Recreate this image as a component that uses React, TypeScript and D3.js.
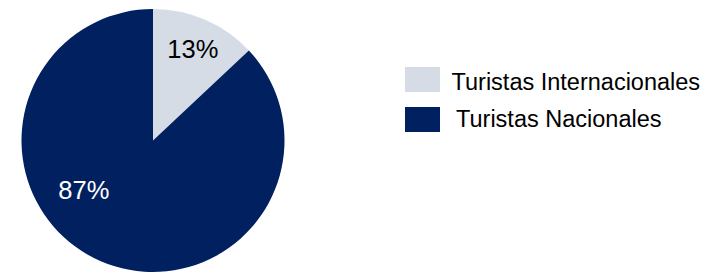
import * as d3 from "d3";
import React from "react";

const categories = ["Turistas Internacionales", "Turistas Nacionales"];
const values = [13, 87];
const colors = ["#d6dce5", "#002060"];

const App: React.FC = () => {
  const width = 719;
  const height = 272;
  const cx = 153;
  const cy = 140.5;
  const radius = 131.5;

  const pie = d3.pie<number>().sort(null).value(d => d);
  const arcs = pie(values);
  const arc = d3.arc<d3.PieArcDatum<number>>().innerRadius(0).outerRadius(radius);

  // label positions tuned to match the source layout
  const labelArc = d3.arc<d3.PieArcDatum<number>>().innerRadius(radius * 0.68).outerRadius(radius * 0.68);
  const labelOffsets = [[4.3, 0], [-33.7, -23.2]];
  const labelColors = ["#000", "#fff"];

  const legendText = [[46.5, 22.5], [51, 20]];

  return (
    <svg width={width} height={height} style={{position: "absolute", left: 0, top: 0}}>
      <g transform={`translate(${cx},${cy})`}>
        {arcs.map((a, i) => (
          <path key={i} d={arc(a) ?? ""} fill={colors[i]} />
        ))}
        {arcs.map((a, i) => {
          const [x, y] = labelArc.centroid(a);
          return (
            <text
              key={i}
              x={x + labelOffsets[i][0]}
              y={y + labelOffsets[i][1]}
              textAnchor="middle"
              fontFamily="Liberation Sans, Arial, sans-serif"
              fontSize={25.5}
              fill={labelColors[i]}
            >
              {a.data}%
            </text>
          );
        })}
      </g>
      {categories.map((c, i) => (
        <g key={c} transform={`translate(405,${67 + i * 40})`}>
          <rect width={35} height={25} fill={colors[i]} />
          <text
            x={legendText[i][0]}
            y={legendText[i][1]}
            fontFamily="Liberation Sans, Arial, sans-serif"
            fontSize={23.5}
            fill="#000"
          >
            {c}
          </text>
        </g>
      ))}
    </svg>
  );
};

export default App;
